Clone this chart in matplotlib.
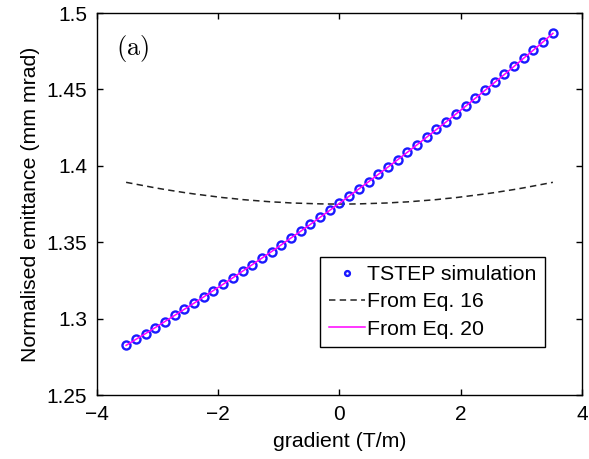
import matplotlib
matplotlib.use("Agg")
import matplotlib.pyplot as plt

plt.rcParams['font.family'] = ['Liberation Sans', 'DejaVu Sans']
plt.rcParams['mathtext.fontset'] = 'cm'

# gradient values (T/m)
gradient = [-3.52, -3.36, -3.20, -3.04, -2.88, -2.72, -2.56, -2.40, -2.24,
            -2.08, -1.92, -1.76, -1.60, -1.44, -1.28, -1.12, -0.96, -0.80,
            -0.64, -0.48, -0.32, -0.16, 0.00, 0.16, 0.32, 0.48, 0.64, 0.80,
            0.96, 1.12, 1.28, 1.44, 1.60, 1.76, 1.92, 2.08, 2.24, 2.40, 2.56,
            2.72, 2.88, 3.04, 3.20, 3.36, 3.52]

# TSTEP simulation (mm mrad)
tstep = [1.2825, 1.2864, 1.2902, 1.2941, 1.2981, 1.3021, 1.3061, 1.3101,
         1.3142, 1.3184, 1.3225, 1.3267, 1.3310, 1.3353, 1.3396, 1.3439,
         1.3483, 1.3528, 1.3572, 1.3617, 1.3663, 1.3709, 1.3755, 1.3802,
         1.3849, 1.3896, 1.3944, 1.3992, 1.4040, 1.4089, 1.4138, 1.4188,
         1.4238, 1.4288, 1.4339, 1.4390, 1.4442, 1.4494, 1.4546, 1.4598,
         1.4651, 1.4705, 1.4758, 1.4812, 1.4867]

# Eq. 16
eq16 = [1.3892, 1.3880, 1.3868, 1.3856, 1.3845, 1.3835, 1.3825, 1.3816,
        1.3808, 1.3800, 1.3792, 1.3786, 1.3779, 1.3774, 1.3769, 1.3764,
        1.3761, 1.3757, 1.3755, 1.3753, 1.3751, 1.3750, 1.3750, 1.3750,
        1.3751, 1.3753, 1.3755, 1.3757, 1.3761, 1.3764, 1.3769, 1.3774,
        1.3779, 1.3786, 1.3792, 1.3800, 1.3808, 1.3816, 1.3825, 1.3835,
        1.3845, 1.3856, 1.3868, 1.3880, 1.3892]

# Eq. 20 lies on top of the simulation
eq20 = list(tstep)

xticks = [-4, -2, 0, 2, 4]
yticks = [1.25, 1.3, 1.35, 1.4, 1.45, 1.5]
yticklabels = ["1.25", "1.3", "1.35", "1.4", "1.45", "1.5"]

fig = plt.figure(figsize=(5.89, 4.59), dpi=100)
ax = fig.add_axes([0.1647, 0.1394, 0.8234, 0.8322])

ax.plot(gradient, tstep, linestyle='none', marker='o', markersize=5.8,
        markerfacecolor='none', markeredgecolor='#1a1aff', markeredgewidth=1.7,
        label="TSTEP simulation", zorder=3)
ax.plot(gradient, eq16, color='#222222', linewidth=1.1, dashes=(4.2, 2.8),
        label="From Eq. 16")
ax.plot(gradient, eq20, color='#ff00ff', linewidth=1.1, label="From Eq. 20",
        zorder=4)

ax.set_xlim(-4, 4)
ax.set_ylim(1.25, 1.5)
ax.set_xticks(xticks)
ax.set_yticks(yticks)
ax.set_yticklabels(yticklabels)
ax.tick_params(direction='in', length=4, width=1, top=True, right=True,
               labelsize=15, pad=7)
for s in ax.spines.values():
    s.set_linewidth(1.0)

ax.set_xlabel("gradient (T/m)", fontsize=15.3, labelpad=6)
ax.set_ylabel("Normalised emittance (mm mrad)", fontsize=15.3, labelpad=5)

ax.text(-3.41, 1.477, r"$\mathrm{(a)}$", fontsize=19, ha='center',
        va='center')

leg = ax.legend(loc='lower right', bbox_to_anchor=(0.9237, 0.1257),
                borderaxespad=0, fontsize=15.3, numpoints=1, handlelength=1.7,
                handletextpad=0.1, labelspacing=0.38, borderpad=0.4,
                fancybox=False, framealpha=1, markerscale=0.6)
leg.get_frame().set_edgecolor('black')
leg.get_frame().set_linewidth(1.0)

fig.savefig("out.png", dpi=100)
